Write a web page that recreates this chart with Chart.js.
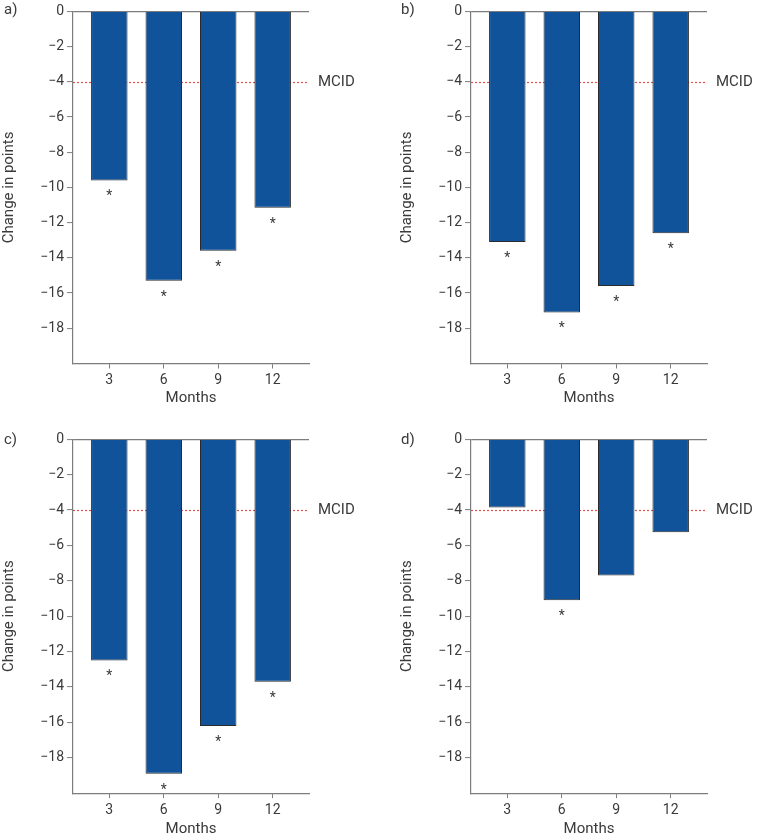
<!DOCTYPE html>
<html><head><meta charset="utf-8">
<script src="https://cdn.jsdelivr.net/npm/chart.js@4"></script>
<style>
html,body{margin:0;padding:0;background:#fff;}
#wrap{position:relative;width:763px;height:839px;overflow:hidden;background:#fff;}
canvas{position:absolute;}
</style></head><body>
<div id="wrap">
<canvas id="ca" width="381" height="420" style="left:0;top:0"></canvas>
<canvas id="cb" width="380" height="420" style="left:383px;top:0"></canvas>
<canvas id="cc" width="381" height="419" style="left:0;top:420px"></canvas>
<canvas id="cd" width="380" height="419" style="left:383px;top:420px"></canvas>
</div>
<script>
// ---- data ----
const months = [3, 6, 9, 12];
const yTicks = [0, -2, -4, -6, -8, -10, -12, -14, -16, -18];
const panelLabels = ["a)", "b)", "c)", "d)"];
const valuesA = [-9.6, -15.3, -13.6, -11.15];
const valuesB = [-13.1, -17.1, -15.6, -12.6];
const valuesC = [-12.5, -18.9, -16.2, -13.7];
const valuesD = [-3.85, -9.1, -7.7, -5.25];
const sigA = [true, true, true, true];
const sigB = [true, true, true, true];
const sigC = [true, true, true, true];
const sigD = [false, true, false, false];
const mcid = -4;
const mcidLabel = "MCID";
const xTitle = "Months";
const yTitle = "Change in points";

// ---- style ----
const FONT = "Roboto, 'DejaVu Sans', sans-serif";
const TEXT = "#3a3a3a";
const AXIS = "#7d7d7d";
const BAR = "#11539b";
const BAR_EDGE = "#2b2b2b";
const RED = "#e4504a";

function fmt(v){ return v < 0 ? "\u2212" + Math.abs(v) : String(v); }

const panelPlugin = {
  id: 'panelPlugin',
  beforeDatasetsDraw(chart){
    const o = chart.options.plugins.panelPlugin;
    const {ctx, chartArea} = chart;
    const y = chart.scales.y.getPixelForValue(mcid);
    ctx.save();
    ctx.strokeStyle = RED; ctx.lineWidth = 1.2; ctx.setLineDash([2, 2]);
    ctx.beginPath(); ctx.moveTo(chartArea.left, Math.round(y)+0.5); ctx.lineTo(chartArea.right, Math.round(y)+0.5); ctx.stroke();
    ctx.restore();
  },
  afterDraw(chart){
    const o = chart.options.plugins.panelPlugin;
    const {ctx, chartArea} = chart;
    const ys = chart.scales.y;
    ctx.save();
    ctx.fillStyle = TEXT;
    ctx.font = "15px " + FONT;
    ctx.textBaseline = 'middle';
    ctx.textAlign = 'left';
    ctx.fillText(mcidLabel, chartArea.right + 9, ys.getPixelForValue(mcid));
    ctx.fillText(o.label, o.lx, o.ly);
    // asterisks
    ctx.font = "14px " + FONT;
    ctx.textAlign = 'center';
    ctx.textBaseline = 'alphabetic';
    const meta = chart.getDatasetMeta(0);
    meta.data.forEach((bar, i) => {
      if (o.sig[i]) ctx.fillText("*", bar.x, bar.y + 20);
    });
    ctx.restore();
  }
};

function makeChart(id, values, sig, label, lay){
  new Chart(document.getElementById(id), {
    type: 'bar',
    data: {
      datasets: [{
        data: months.map((m, i) => ({x: m, y: values[i]})),
        backgroundColor: BAR,
        borderColor: BAR_EDGE,
        borderWidth: 1,
        categoryPercentage: 1,
        barPercentage: 0.67
      }]
    },
    options: {
      responsive: false,
      animation: false,
      events: [],
      layout: { padding: lay.padding },
      plugins: {
        legend: {display: false},
        tooltip: {enabled: false},
        panelPlugin: { sig, label, lx: lay.lx, ly: lay.ly }
      },
      scales: {
        x: {
          type: 'linear', min: 1, max: 14, offset: false,
          afterBuildTicks: s => { s.ticks = months.map(v => ({value: v})); },
          afterFit: s => { s.height = lay.hx; },
          grid: { drawOnChartArea: false, offset: false, tickLength: 5, tickColor: AXIS, tickWidth: 1 },
          border: { display: true, color: AXIS, width: 1.2 },
          ticks: { color: TEXT, font: {family: FONT, size: 14}, padding: 4, callback: v => String(v), maxRotation: 0 },
          title: { display: true, text: xTitle, color: TEXT, font: {family: FONT, size: 15}, padding: 0 }
        },
        y: {
          min: -20, max: 0,
          afterBuildTicks: s => { s.ticks = yTicks.map(v => ({value: v})); },
          afterFit: s => { s.width = 73; },
          grid: {
            drawOnChartArea: true,
            color: c => (c.tick && c.tick.value === 0) ? AXIS : 'rgba(0,0,0,0)',
            lineWidth: 1.2,
            tickLength: 6, tickColor: AXIS, tickWidth: 1
          },
          border: { display: true, color: AXIS, width: 1.2 },
          ticks: { color: TEXT, font: {family: FONT, size: 14}, padding: 3, callback: v => fmt(v) },
          title: { display: true, text: yTitle, color: TEXT, font: {family: FONT, size: 15}, padding: 0 }
        }
      }
    },
    plugins: [panelPlugin]
  });
}

makeChart('ca', valuesA, sigA, panelLabels[0], {padding: {top: 9, left: 0, right: 72, bottom: 12.5}, hx: 44, lx: 4, ly: 10});
makeChart('cb', valuesB, sigB, panelLabels[1], {padding: {top: 9, left: 15, right: 56, bottom: 12.5}, hx: 44, lx: 18, ly: 10});
makeChart('cc', valuesC, sigC, panelLabels[2], {padding: {top: 19.3, left: 0, right: 72, bottom: 0.9}, hx: 45, lx: 4, ly: 20});
makeChart('cd', valuesD, sigD, panelLabels[3], {padding: {top: 19.3, left: 15, right: 56, bottom: 0.9}, hx: 45, lx: 18, ly: 20});
</script>
</body></html>
